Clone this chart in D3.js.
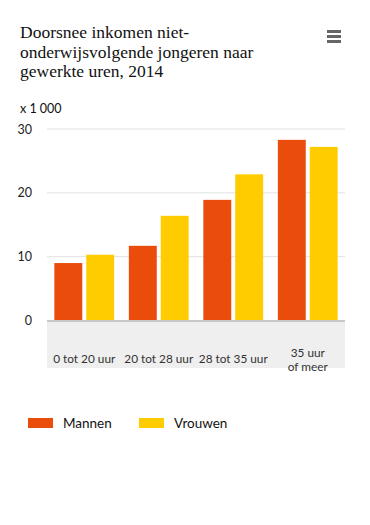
<!DOCTYPE html>
<html><head><meta charset="utf-8">
<script src="https://cdn.jsdelivr.net/npm/d3@7"></script>
<style>body{margin:0;background:#fff}svg{display:block}</style>
</head><body>
<script>
const categories = ["0 tot 20 uur", "20 tot 28 uur", "28 tot 35 uur", "35 uur\nof meer"];
const seriesNames = ["Mannen", "Vrouwen"];
const mannen = [9.0, 11.7, 18.9, 28.3];
const vrouwen = [10.3, 16.4, 22.9, 27.2];
const yTicks = [0, 10, 20, 30];
const colors = ["#E94C0B", "#FFCC00"];

const W = 370, H = 525;
const svg = d3.select("body").append("svg").attr("width", W).attr("height", H);
const sans = "Lato, 'Open Sans', sans-serif";

// title
const title = svg.append("text").attr("font-family", "'Liberation Serif', serif").attr("font-size", 17.5).attr("fill", "#111");
["Doorsnee inkomen niet-", "onderwijsvolgende jongeren naar", "gewerkte uren, 2014"].forEach((t, i) => {
  title.append("tspan").attr("x", 20).attr("y", 38 + i * 19.5).text(t);
});
// menu icon
[0, 5, 10].forEach(d => svg.append("rect").attr("x", 327).attr("y", 30 + d).attr("width", 14).attr("height", 3).attr("fill", "#666"));

svg.append("text").attr("x", 20).attr("y", 113).attr("font-family", sans).attr("font-size", 12.5).attr("fill", "#111").text("x 1 000");

const x0 = d3.scaleBand().domain(categories).range([47, 345]).paddingInner(0).paddingOuter(0);
const y = d3.scaleLinear().domain([0, 30]).range([320.5, 129]);

// gray band
svg.append("rect").attr("x", 47).attr("y", 321).attr("width", 298).attr("height", 47).attr("fill", "#efefef");

// gridlines
svg.append("g").selectAll("line").data(yTicks.filter(d => d > 0)).join("line")
  .attr("x1", 47).attr("x2", 345).attr("y1", d => y(d)).attr("y2", d => y(d))
  .attr("stroke", "#e2e2e2").attr("stroke-width", 1);

// y axis labels
const yAxis = d3.axisLeft(y).tickValues(yTicks).tickSize(0).tickPadding(0);
const ya = svg.append("g").attr("transform", "translate(32,0)").call(yAxis);
ya.select(".domain").remove();
ya.selectAll("text").attr("font-family", sans).attr("font-size", 12.5).attr("fill", "#222");

const data = categories.map((c, i) => ({ c, v: [mannen[i], vrouwen[i]] }));
const x1 = d3.scaleBand().domain([0, 1]).range([0, x0.bandwidth()]).paddingInner(0.125).paddingOuter(0.23);

svg.append("g").selectAll("g").data(data).join("g")
  .attr("transform", d => `translate(${x0(d.c)},0)`)
  .selectAll("rect").data(d => d.v.map((v, k) => ({ v, k }))).join("rect")
  .attr("x", d => x1(d.k)).attr("width", x1.bandwidth())
  .attr("y", d => y(d.v)).attr("height", d => y(0) - y(d.v))
  .attr("fill", d => colors[d.k]);

// baseline
svg.append("line").attr("x1", 47).attr("x2", 345).attr("y1", y(0) + 0.5).attr("y2", y(0) + 0.5).attr("stroke", "#c8c8c8").attr("stroke-width", 2);

// category labels
const xl = svg.append("g");
categories.forEach(c => {
  const lines = c.split("\n");
  const t = xl.append("text").attr("text-anchor", "middle").attr("font-family", sans).attr("font-size", 11.8).attr("fill", "#333");
  const cx = x0(c) + x0.bandwidth() / 2;
  const startY = lines.length === 1 ? 363 : 357;
  lines.forEach((l, i) => t.append("tspan").attr("x", cx).attr("y", startY + i * 14).text(l));
});

// legend
const lg = svg.append("g");
const lx = [28, 139];
seriesNames.forEach((n, i) => {
  lg.append("rect").attr("x", lx[i]).attr("y", 418).attr("width", 25).attr("height", 10).attr("fill", colors[i]);
  lg.append("text").attr("x", lx[i] + 35).attr("y", 427.5).attr("font-family", sans).attr("font-size", 13.5).attr("fill", "#111").text(n);
});
</script>
</body></html>
